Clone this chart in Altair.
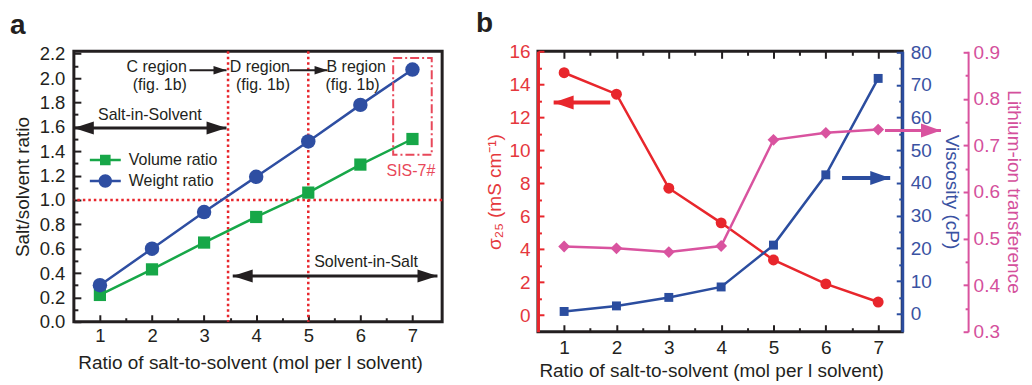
import altair as alt
import pandas as pd

FONT = "Liberation Sans"
INK = "#231f20"
RED = "#e8262c"
RED_TXT = "#e5383d"
BLUE_A = "#2e4ea2"
GREEN = "#17a748"
BLUE_B = "#2b4d9f"
BLUE_TXT = "#3a52a2"
PINK = "#d9539f"
PINK_TXT = "#d4509c"
SIS_RED = "#e8485a"

# ---------------- panel a data ----------------
ratio = [1, 2, 3, 4, 5, 6, 7]
volume_ratio = [0.22, 0.43, 0.65, 0.86, 1.06, 1.29, 1.50]
weight_ratio = [0.30, 0.60, 0.90, 1.19, 1.48, 1.78, 2.07]
legend_names = ["Volume ratio", "Weight ratio"]

# ---------------- panel b data ----------------
conductivity = [14.7, 13.4, 7.7, 5.6, 3.35, 1.9, 0.8]
viscosity = [0.7, 2.4, 5.0, 8.2, 21.0, 42.5, 72.0]
transference = [0.483, 0.479, 0.471, 0.484, 0.712, 0.727, 0.734]

# ---------------- tick values ----------------
a_x_ticks = [1, 2, 3, 4, 5, 6, 7]
a_x_minor = [1.5, 2.5, 3.5, 4.5, 5.5, 6.5]
a_y_ticks = [0.0, 0.2, 0.4, 0.6, 0.8, 1.0, 1.2, 1.4, 1.6, 1.8, 2.0, 2.2]
a_y_minor = [0.1, 0.3, 0.5, 0.7, 0.9, 1.1, 1.3, 1.5, 1.7, 1.9, 2.1]
b_x_ticks = [1, 2, 3, 4, 5, 6, 7]
b_x_minor = [1.5, 2.5, 3.5, 4.5, 5.5, 6.5]
b_red_ticks = [0, 2, 4, 6, 8, 10, 12, 14, 16]
b_red_minor = [1, 3, 5, 7, 9, 11, 13, 15]
b_blue_ticks = [0, 10, 20, 30, 40, 50, 60, 70, 80]
b_blue_minor = [5, 15, 25, 35, 45, 55, 65, 75]
b_pink_ticks = [0.3, 0.4, 0.5, 0.6, 0.7, 0.8, 0.9]
b_pink_minor = [0.35, 0.45, 0.55, 0.65, 0.75, 0.85]

# ---------------- panel a annotations ----------------
region_names = ["C region", "D region", "B region"]
region_name_x = [2.09, 4.07, 5.92]
region_name_y = [2.095, 2.095, 2.095]
region_fig = ["(fig. 1b)", "(fig. 1b)", "(fig. 1b)"]
region_fig_x = [2.15, 4.13, 5.85]
region_fig_y = [1.94, 1.94, 1.94]
region_arrow_from = [2.72, 4.64]
region_arrow_to = [3.43, 5.37]
region_arrow_y = [2.065, 2.065]
span_names = ["Salt-in-Solvent", "Solvent-in-Salt"]
span_from = [0.5, 3.55]
span_to = [3.43, 7.48]
span_y = [1.59, 0.375]
span_label_x = [1.96, 6.11]
span_label_y = [1.70, 0.493]
boundary_x = [3.46, 5.0]
boundary_y = [1.0]
sis_x = [6.63]
sis_x2 = [7.37]
sis_y = [1.37]
sis_y2 = [2.165]
sis_label = ["SIS-7#"]
sis_label_x = [6.97]
sis_label_y = [1.234]
panel_letters = ["a", "b"]

# ---------------- panel b annotation arrows (tail, head, level) ----------------
red_arrow = [1.88, 0.80, 12.9]
blue_arrow = [6.31, 7.23, 41.5]
pink_arrow = [7.13, 8.20, 0.732]

A_W, A_H = 369, 271
B_W, B_H = 365, 281
AX = [0.5, 7.57]
AY = [0.0, 2.22]
BX = [0.5, 7.46]
BR = [-1.0, 16.0]
BB = [-5.5, 80.3]
BP = [0.3, 0.902]

HEAD_R = "M0,0L-2,-0.65L-2,0.65Z"
HEAD_L = "M0,0L2,-0.65L2,0.65Z"
HEAD_R2 = "M0,0L-2,-0.7L-2,0.7Z"
HEAD_L2 = "M0,0L2,-0.7L2,0.7Z"
LEG_VOL = "M-3.1,-0.25H3.1V0.25H-3.1Z M-1.06,-1.06H1.06V1.06H-1.06Z"
LEG_WT = "M-3.1,-0.25H3.1V0.25H-3.1Z M1.34,0A1.34,1.34,0,1,1,-1.34,0A1.34,1.34,0,1,1,1.34,0Z"

empty = pd.DataFrame({"x": [1.0], "y": [1.0], "series": [legend_names[0]]})


def sc(dom):
    return alt.Scale(domain=dom, nice=False, zero=False)


def X(field, dom, axis=None):
    return alt.X(field, type="quantitative", scale=sc(dom), axis=axis)


def Y(field, dom, axis=None):
    return alt.Y(field, type="quantitative", scale=sc(dom), axis=axis)


def tick_axis(orient, offset, values, size, color, width=2):
    return alt.Axis(orient=orient, offset=offset, values=values, labels=False,
                    domain=False, ticks=True, tickSize=size, tickWidth=width,
                    tickColor=color, title=None, grid=False)


def tick_layer(xdom, ydom, xaxis=None, yaxis=None):
    return alt.Chart(empty).transform_filter("false").mark_point(opacity=0).encode(
        x=X("x", xdom, xaxis), y=Y("y", ydom, yaxis))


def letter(text, dx, dy):
    return alt.Chart(pd.DataFrame({"t": [text]})).mark_text(
        font=FONT, fontSize=28, fontWeight="bold", color=INK, align="left",
        baseline="alphabetic").encode(text="t:N", x=alt.value(dx), y=alt.value(dy))


def arrow(tails, heads, levels, xdom, ydom, color, width, size, hr, hl):
    df = pd.DataFrame({"x0": tails, "x1": heads, "y": levels})
    line = alt.Chart(df).mark_rule(color=color, strokeWidth=width).encode(
        x=X("x0", xdom), x2="x1", y=Y("y", ydom))
    right = df[df.x1 > df.x0]
    left = df[df.x1 < df.x0]
    out = [line]
    if len(right):
        out.append(alt.Chart(right).mark_point(shape=hr, filled=True, opacity=1,
                                               size=size, color=color, strokeWidth=0)
                   .encode(x=X("x1", xdom), y=Y("y", ydom)))
    if len(left):
        out.append(alt.Chart(left).mark_point(shape=hl, filled=True, opacity=1,
                                              size=size, color=color, strokeWidth=0)
                   .encode(x=X("x1", xdom), y=Y("y", ydom)))
    return out


# ================= panel a =================
vol_df = pd.DataFrame({"ratio": ratio, "value": volume_ratio})
wt_df = pd.DataFrame({"ratio": ratio, "value": weight_ratio})

a_xaxis = alt.Axis(orient="bottom", values=a_x_ticks, format="d", ticks=False, tickSize=0,
                   domain=False, labelPadding=5, labelFontSize=18.5, labelColor=INK,
                   title="Ratio of salt-to-solvent (mol per l solvent)", titleColor=INK,
                   titleFontSize=19, titlePadding=8, titleX=A_W / 2 - 8)
a_yaxis = alt.Axis(orient="left", values=a_y_ticks, format=".1f", ticks=False, tickSize=0,
                   domain=False, labelPadding=9, labelFontSize=18.5, labelColor=INK,
                   title="Salt/solvent ratio", titleColor=INK, titleFontSize=19,
                   titlePadding=7)

leg = dict(orient="none", legendX=23.5, legendY=101, title=None, symbolSize=100,
           symbolStrokeWidth=0, labelFont=FONT, labelFontSize=16, labelColor=INK,
           labelOffset=15.5, rowPadding=5, padding=0, symbolOpacity=1)

a_layers = [
    tick_layer(AX, AY, tick_axis("top", -A_H, a_x_ticks, 7, INK),
               tick_axis("right", -A_W, a_y_ticks, 7, INK)),
    tick_layer(AX, AY, tick_axis("top", -A_H, a_x_minor, 4, INK),
               tick_axis("right", -A_W, a_y_minor, 4, INK)),
    alt.Chart(pd.DataFrame({"b": boundary_x})).mark_rule(
        color=RED, strokeWidth=2.5, strokeDash=[2.5, 3]).encode(x=X("b", AX)),
    alt.Chart(pd.DataFrame({"b": boundary_y})).mark_rule(
        color=RED, strokeWidth=2.5, strokeDash=[2.5, 3]).encode(y=Y("b", AY)),
    alt.Chart(vol_df).mark_line(color=GREEN, strokeWidth=2.5).encode(
        x=X("ratio", AX, a_xaxis), y=Y("value", AY, a_yaxis)),
    alt.Chart(wt_df).mark_line(color=BLUE_A, strokeWidth=2.5).encode(
        x=X("ratio", AX), y=Y("value", AY)),
    alt.Chart(vol_df).mark_point(shape="square", filled=True, opacity=1, size=150,
                                 color=GREEN, strokeWidth=0).encode(
        x=X("ratio", AX), y=Y("value", AY)),
    alt.Chart(wt_df).mark_point(shape="circle", filled=True, opacity=1, size=210,
                                color=BLUE_A, strokeWidth=0).encode(
        x=X("ratio", AX), y=Y("value", AY)),
    alt.Chart(empty).transform_filter("false").mark_point(filled=True, opacity=1).encode(
        x=X("x", AX), y=Y("y", AY),
        color=alt.Color("series:N", scale=alt.Scale(domain=legend_names, range=[GREEN, BLUE_A]),
                        legend=alt.Legend(**leg)),
        shape=alt.Shape("series:N", scale=alt.Scale(domain=legend_names, range=[LEG_VOL, LEG_WT]),
                        legend=alt.Legend(**leg)),
    ),
    alt.Chart(pd.DataFrame({"x": sis_x, "x2": sis_x2, "y": sis_y, "y2": sis_y2})).mark_rect(
        fill=None, stroke=SIS_RED, strokeWidth=2, strokeDash=[9, 3, 2, 3]).encode(
        x=X("x", AX), x2="x2", y=Y("y", AY), y2="y2"),
    alt.Chart(pd.DataFrame({"t": sis_label, "x": sis_label_x, "y": sis_label_y})).mark_text(
        font=FONT, fontSize=16, color=SIS_RED).encode(x=X("x", AX), y=Y("y", AY), text="t:N"),
    alt.Chart(pd.DataFrame({"t": region_names + region_fig,
                            "x": region_name_x + region_fig_x,
                            "y": region_name_y + region_fig_y})).mark_text(
        font=FONT, fontSize=16, color=INK).encode(x=X("x", AX), y=Y("y", AY), text="t:N"),
    alt.Chart(pd.DataFrame({"t": span_names, "x": span_label_x, "y": span_label_y})).mark_text(
        font=FONT, fontSize=16, color=INK).encode(x=X("x", AX), y=Y("y", AY), text="t:N"),
    letter(panel_letters[0], -64, -17),
]
a_layers += arrow(span_from, span_to, span_y, AX, AY, INK, 3, 400, HEAD_R, HEAD_L)
a_layers += arrow(span_to, span_from, span_y, AX, AY, INK, 3, 400, HEAD_R, HEAD_L)[1:]
a_layers += arrow(region_arrow_from, region_arrow_to, region_arrow_y, AX, AY, INK, 2, 169,
                  HEAD_R, HEAD_L)

panel_a = alt.layer(*a_layers).resolve_scale(x="independent", y="independent").properties(
    width=A_W, height=A_H)

# ================= panel b =================
red_df = pd.DataFrame({"ratio": ratio, "value": conductivity})
blue_df = pd.DataFrame({"ratio": ratio, "value": viscosity})
pink_df = pd.DataFrame({"ratio": ratio, "value": transference})

b_xaxis = alt.Axis(orient="bottom", values=b_x_ticks, format="d", ticks=False, tickSize=0,
                   domain=False, labelPadding=7, labelFontSize=19, labelColor=INK,
                   title="Ratio of salt-to-solvent (mol per l solvent)", titleColor=INK,
                   titleFontSize=19, titlePadding=4, titleX=B_W / 2 - 9)
red_axis = alt.Axis(orient="left", values=b_red_ticks, format="d", ticks=False, tickSize=0,
                    domain=True, domainColor=RED, domainWidth=3, labelPadding=8,
                    labelFontSize=19, labelColor=RED_TXT, title="σ₂₅ (mS cm⁻¹)",
                    titleColor=RED_TXT, titleFontSize=19, titlePadding=4)
blue_axis = alt.Axis(orient="right", values=b_blue_ticks, format="d", ticks=False, tickSize=0,
                     domain=True, domainColor=BLUE_B, domainWidth=3, labelPadding=8,
                     labelFontSize=19, labelColor=BLUE_TXT, title="Viscosity (cP)",
                     titleColor=BLUE_TXT, titleFontSize=19, titlePadding=10)
pink_axis = alt.Axis(orient="right", offset=66, values=b_pink_ticks, format=".1f", ticks=False,
                     tickSize=0, domain=True, domainColor=PINK, domainWidth=2, labelPadding=5,
                     labelFontSize=19, labelColor=PINK_TXT, title="Lithium-ion transference",
                     titleColor=PINK_TXT, titleFontSize=19, titlePadding=4)

b_layers = [
    tick_layer(BX, BR, tick_axis("top", -B_H, b_x_ticks, 7, INK),
               tick_axis("right", -B_W, b_red_ticks, 6, RED)),
    tick_layer(BX, BR, tick_axis("top", -B_H, b_x_minor, 4, INK),
               tick_axis("right", -B_W, b_red_minor, 3.5, RED)),
    tick_layer(BX, BB, tick_axis("bottom", -B_H, b_x_ticks, 7, INK),
               tick_axis("left", -B_W, b_blue_ticks, 6, BLUE_B)),
    tick_layer(BX, BB, tick_axis("bottom", -B_H, b_x_minor, 4, INK),
               tick_axis("left", -B_W, b_blue_minor, 3.5, BLUE_B)),
    tick_layer(BX, BP, None, tick_axis("left", -(B_W + 66), b_pink_ticks, 5, PINK)),
    tick_layer(BX, BP, None, tick_axis("left", -(B_W + 66), b_pink_minor, 3, PINK)),
    alt.Chart(red_df).mark_line(color=RED, strokeWidth=2.5).encode(
        x=X("ratio", BX, b_xaxis), y=Y("value", BR, red_axis)),
    alt.Chart(blue_df).mark_line(color=BLUE_B, strokeWidth=2.5).encode(
        x=X("ratio", BX), y=Y("value", BB, blue_axis)),
    alt.Chart(pink_df).mark_line(color=PINK, strokeWidth=2.5).encode(
        x=X("ratio", BX), y=Y("value", BP, pink_axis)),
    alt.Chart(red_df).mark_point(shape="circle", filled=True, opacity=1, size=120,
                                 color=RED, strokeWidth=0).encode(
        x=X("ratio", BX), y=Y("value", BR)),
    alt.Chart(blue_df).mark_point(shape="square", filled=True, opacity=1, size=80,
                                  color=BLUE_B, strokeWidth=0).encode(
        x=X("ratio", BX), y=Y("value", BB)),
    alt.Chart(pink_df).mark_point(shape="diamond", filled=True, opacity=1, size=140,
                                  color=PINK, strokeWidth=0).encode(
        x=X("ratio", BX), y=Y("value", BP)),
    letter(panel_letters[1], -62, -19),
]
b_layers += arrow([red_arrow[0]], [red_arrow[1]], [red_arrow[2]], BX, BR, RED, 4, 400,
                  HEAD_R2, HEAD_L2)
b_layers += arrow([blue_arrow[0]], [blue_arrow[1]], [blue_arrow[2]], BX, BB, BLUE_B, 4, 400,
                  HEAD_R2, HEAD_L2)
b_layers += arrow([pink_arrow[0]], [pink_arrow[1]], [pink_arrow[2]], BX, BP, PINK, 3, 400,
                  HEAD_R2, HEAD_L2)

panel_b = alt.layer(*b_layers).resolve_scale(x="independent", y="independent").properties(
    width=B_W, height=B_H)

chart = alt.hconcat(panel_a, panel_b, spacing=96, bounds="flush").resolve_scale(
    color="independent", shape="independent").configure_view(
    stroke=INK, strokeWidth=3).configure_axis(
    labelFont=FONT, titleFont=FONT, titleFontWeight="normal", grid=False).properties(
    padding={"left": 0, "top": 0, "right": 0, "bottom": 0}, background="white")

chart.save("out.html", embed_options={"renderer": "svg", "actions": False})
